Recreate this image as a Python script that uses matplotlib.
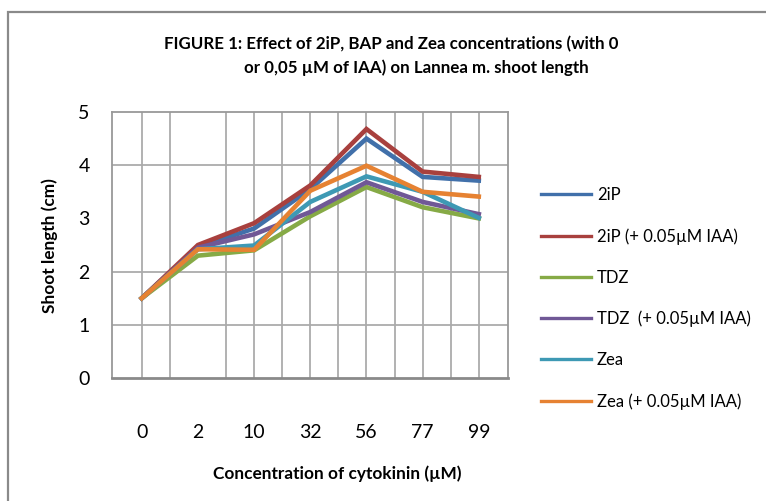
import matplotlib
matplotlib.use("Agg")
import matplotlib.pyplot as plt
from matplotlib.patches import Rectangle
from matplotlib.lines import Line2D

categories = ["0", "2", "10", "32", "56", "77", "99"]
series_names = ["2iP", "2iP (+ 0.05µM IAA)", "TDZ", "TDZ  (+ 0.05µM IAA)", "Zea", "Zea (+ 0.05µM IAA)"]
v_2ip = [1.5, 2.46, 2.81, 3.55, 4.50, 3.78, 3.71]
v_2ip_iaa = [1.5, 2.50, 2.91, 3.62, 4.68, 3.88, 3.78]
v_tdz = [1.5, 2.30, 2.40, 3.04, 3.59, 3.21, 3.00]
v_tdz_iaa = [1.5, 2.45, 2.70, 3.12, 3.68, 3.31, 3.08]
v_zea = [1.5, 2.42, 2.49, 3.31, 3.79, 3.50, 3.01]
v_zea_iaa = [1.5, 2.42, 2.41, 3.52, 3.99, 3.50, 3.41]
colors = ["#4170AA", "#A8403E", "#86AA46", "#705896", "#3E99B4", "#E68232"]
y_ticks = [0, 1, 2, 3, 4, 5]

W, H = 766, 501
fig = plt.figure(figsize=(W / 100, H / 100), dpi=100)
fig.patch.set_facecolor("white")

# outer border of the chart object
fig.patches.append(Rectangle((8 / W, -0.2), 1.2, 1.2 - 12 / H, transform=fig.transFigure,
                             fill=False, edgecolor="#8a8a8a", linewidth=1.6, zorder=0))

ax = fig.add_axes([112 / W, (H - 378) / H, (508 - 112) / W, (378 - 112) / H])
x = list(range(len(categories)))
all_vals = [v_2ip, v_2ip_iaa, v_tdz, v_tdz_iaa, v_zea, v_zea_iaa]

ax.set_xlim(-0.53, 6.52)
ax.set_ylim(0, 5)

# gridlines
for gx in [0, 0.5, 1.5, 2, 2.5, 3, 3.5, 4, 4.5, 5, 5.5, 6]:
    ax.axvline(gx, color="#ababab", lw=1.3, zorder=1)
for gy in [1, 2, 4]:
    ax.axhline(gy, color="#ababab", lw=1.3, zorder=1)

for vals, c, name in zip(all_vals, colors, series_names):
    ax.plot(x, vals, color=c, lw=3.3, label=name, zorder=3, solid_joinstyle="miter")

for s in ax.spines.values():
    s.set_color("#999999")
    s.set_linewidth(1.3)
ax.spines["bottom"].set_color("#8a8a8a")
ax.spines["bottom"].set_linewidth(2)

ax.set_xticks(x)
ax.set_xticklabels(categories)
ax.set_yticks(y_ticks)
ax.tick_params(axis="both", length=0, labelsize=14, colors="black")
ax.tick_params(axis="x", pad=33)
ax.tick_params(axis="y", pad=16)
for lab in ax.get_xticklabels() + ax.get_yticklabels():
    lab.set_family("Lato")

fig.text(391 / W, 1 - 44 / H, "FIGURE 1: Effect of 2iP, BAP and Zea concentrations (with 0",
         ha="center", va="center", fontsize=12.2, fontweight="bold", family="Lato")
fig.text(416 / W, 1 - 68 / H, "or 0,05 µM of IAA) on Lannea m. shoot length",
         ha="center", va="center", fontsize=12.2, fontweight="bold", family="Lato")

fig.text(337 / W, 1 - 474 / H, "Concentration of cytokinin (µM)", ha="center", va="center",
         fontsize=12.4, fontweight="bold", family="Lato")
fig.text(50 / W, 1 - 246 / H, "Shoot length (cm)", ha="center", va="center", rotation=90,
         fontsize=12.4, fontweight="bold", family="Lato")

handles = [Line2D([0], [0], color=c, lw=2.4) for c in colors]
leg = fig.legend(handles, series_names, loc="upper left", bbox_to_anchor=(541 / W, 1 - 187 / H),
                 frameon=False, handlelength=3.0, handletextpad=0.35,
                 labelspacing=1.5, borderpad=0, borderaxespad=0,
                 prop={"family": "Lato", "size": 12})

fig.savefig("out.png", dpi=100)
